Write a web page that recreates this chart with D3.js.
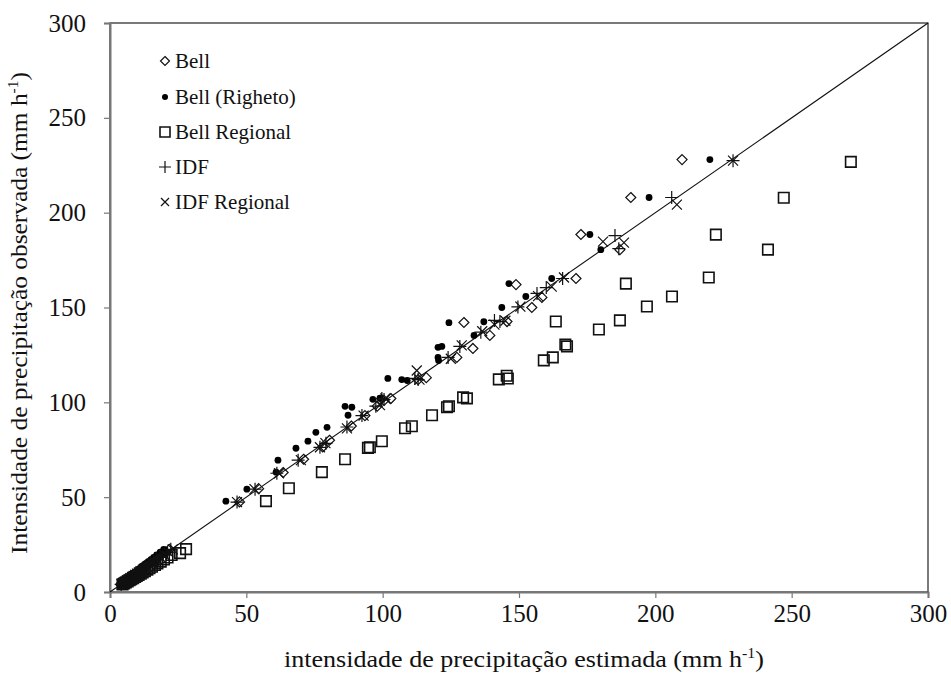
<!DOCTYPE html>
<html>
<head>
<meta charset="utf-8">
<script src="https://cdn.jsdelivr.net/npm/d3@7"></script>
<style>
  html, body { margin: 0; padding: 0; background: #fff; }
  svg { display: block; }
  text { font-family: "Liberation Serif", "Times New Roman", serif; fill: #111; }
</style>
</head>
<body>
<svg id="chart" width="951" height="686"></svg>
<script>
// ---- data (estimated = x, observed = y) ----
const xTicks = [0, 50, 100, 150, 200, 250, 300];
const yTicks = [0, 50, 100, 150, 200, 250, 300];
const seriesNames = ["Bell", "Bell (Righeto)", "Bell Regional", "IDF", "IDF Regional"];

const bellEst = [209.8, 191, 172.7, 187, 170.9, 148.9, 158.4, 154.7, 145.6, 129.8, 139.3, 133.1, 127.2, 116, 113, 103, 100.5, 98, 93.5, 88.5, 80.5, 78, 71, 63.5, 54.5, 47.5,
  3.9, 4.4, 4.8, 5.3, 6.0, 6.4, 7.1, 7.5, 8.2, 8.6, 9.4, 9.9, 10.7, 11.3, 12.1, 12.8, 13.8, 14.4, 15.6, 16.5, 17.7, 18.8, 20.4, 21.8];
const bellObs = [228, 208, 188.5, 180.5, 165.3, 162.1, 155.3, 150, 142.6, 142.1, 135.3, 128.4, 123.7, 113, 112, 102, 101, 98, 93, 87.5, 80, 76.5, 70, 63, 54.5, 47.5,
  4.0, 4.5, 5.0, 5.6, 6.2, 6.7, 7.3, 7.9, 8.4, 9.0, 9.7, 10.3, 11.0, 11.8, 12.5, 13.3, 14.2, 15.0, 16.0, 17.1, 18.2, 19.5, 21.0, 22.5];

const righetoEst = [220, 197.7, 176, 180, 162, 146.3, 152.5, 143.7, 124.3, 137.1, 133.5, 120.3, 121.7, 120.3, 120.5, 101.9, 107, 109, 96.4, 99, 86.2, 88.7, 87.3, 79.6, 75.5, 72.6, 68.2, 61.6, 60.9, 50.2, 42.5,
  3.6, 4.0, 4.3, 4.8, 5.4, 5.8, 6.4, 6.9, 7.3, 7.9, 8.5, 9.0, 9.6, 10.3, 10.9, 11.6, 12.4, 13.1, 14.0, 15.0, 16.0, 17.1, 18.4, 19.7];
const righetoObs = [228, 208, 188.5, 180.5, 165.3, 162.6, 155.8, 150, 142, 142.5, 135.3, 129, 129.5, 123.7, 122, 112.6, 112, 111.5, 101.6, 102.2, 97.9, 97.4, 93.2, 86.8, 84.2, 79.5, 75.8, 69.5, 63.2, 54.2, 47.9,
  4.0, 4.5, 5.0, 5.6, 6.2, 6.7, 7.3, 7.9, 8.4, 9.0, 9.7, 10.3, 11.0, 11.8, 12.5, 13.3, 14.2, 15.0, 16.0, 17.1, 18.2, 19.5, 21.0, 22.5];

const regionalEst = [271.7, 247.1, 222.2, 241.3, 219.6, 189.2, 206.1, 196.9, 187.0, 163.5, 179.3, 167.6, 167, 162.4, 159.1, 145.9, 145.5, 142.6, 130.9, 129.5, 124.3, 123.6, 118.1, 110.7, 108.2, 99.7, 95.3, 94.6, 86.2, 77.7, 65.6, 57.2,
  4.6, 5.2, 5.8, 6.5, 7.2, 7.8, 8.5, 9.2, 9.8, 10.5, 11.3, 12.0, 12.8, 13.7, 14.5, 15.4, 16.5, 17.4, 18.6, 19.8, 21.1, 22.6, 25.7, 27.9];
const regionalObs = [226.8, 207.9, 188.4, 180.5, 165.8, 162.6, 155.8, 150.5, 143.2, 142.6, 138.4, 129.5, 130.5, 123.7, 122.1, 112.6, 114, 112.1, 102.1, 102.6, 97.9, 97.4, 93.2, 87.4, 86.3, 79.5, 76.3, 76.0, 70, 63.2, 54.7, 47.9,
  4.0, 4.5, 5.0, 5.6, 6.2, 6.7, 7.3, 7.9, 8.4, 9.0, 9.7, 10.3, 11.0, 11.8, 12.5, 13.3, 14.2, 15.0, 16.0, 17.1, 18.2, 19.5, 20.5, 22.6];

const idfEst = [228.5, 206, 185.2, 186.6, 166, 160, 156.6, 149.6, 143, 141, 136, 128.3, 124, 111.8, 113, 99.7, 100.5, 97.5, 92.4, 86.9, 79.2, 77, 69, 61.2, 53.2, 46.6,
  4.1, 4.6, 5.1, 5.6, 6.3, 6.7, 7.4, 7.8, 8.5, 9.0, 9.8, 10.3, 11.1, 11.7, 12.6, 13.2, 14.3, 14.9, 16.1, 17.0, 18.3, 19.4, 21.1, 22.3];
const idfObs = [227.4, 208, 187.9, 181, 165.3, 160.5, 157.4, 150.3, 142.6, 143.2, 137, 129.5, 123.7, 112.6, 112, 102, 101.5, 98, 93, 87, 78.4, 76.3, 69.5, 62.6, 54.2, 47.4,
  4.0, 4.5, 5.0, 5.6, 6.2, 6.7, 7.3, 7.9, 8.4, 9.0, 9.7, 10.3, 11.0, 11.8, 12.5, 13.3, 14.2, 15.0, 16.0, 17.1, 18.2, 19.5, 21.0, 22.5];

const idfRegEst = [228.5, 207.9, 188.5, 180.8, 166.5, 162, 157, 150.5, 145, 141, 136.5, 129, 125, 112.5, 113.5, 101, 99, 93, 86.9, 79, 77, 70, 62, 53, 46.6,
  4.2, 4.7, 5.2, 5.8, 6.4, 6.9, 7.5, 8.1, 8.6, 9.2, 9.9, 10.6, 11.2, 12.1, 12.8, 13.6, 14.5, 15.4, 16.3, 17.5, 18.6, 20.0, 21.4, 23.0];
const idfRegObs = [227.4, 204.2, 184.2, 184.7, 165.8, 161, 156, 150.5, 143, 141, 137.5, 130, 123, 116.8, 112, 102, 98.5, 93, 86.3, 78.5, 76.3, 69.5, 62.6, 54.2, 47.4,
  4.0, 4.5, 5.0, 5.6, 6.2, 6.7, 7.3, 7.9, 8.4, 9.0, 9.7, 10.3, 11.0, 11.8, 12.5, 13.3, 14.2, 15.0, 16.0, 17.1, 18.2, 19.5, 21.0, 22.5];

// ---- layout ----
const svg = d3.select("#chart");
const m = { left: 110, right: 928, top: 23, bottom: 592 };
const x = d3.scaleLinear().domain([0, 300]).range([m.left, m.right]);
const y = d3.scaleLinear().domain([0, 300]).range([m.bottom, m.top]);

// frame
svg.append("rect")
  .attr("x", m.left).attr("y", m.top)
  .attr("width", m.right - m.left).attr("height", m.bottom - m.top)
  .attr("fill", "none").attr("stroke", "#222").attr("stroke-width", 1.2);

// axes
const xAxis = svg.append("g").attr("transform", `translate(0,${m.bottom})`)
  .call(d3.axisBottom(x).tickValues(xTicks).tickSize(6).tickPadding(6).tickFormat(d3.format("d")));
const yAxis = svg.append("g").attr("transform", `translate(${m.left},0)`)
  .call(d3.axisLeft(y).tickValues(yTicks).tickSize(6).tickPadding(18).tickFormat(d3.format("d")));
[xAxis, yAxis].forEach(g => {
  g.select(".domain").attr("stroke", "#777").attr("stroke-width", 2);
  g.selectAll(".tick line").attr("stroke", "#777").attr("stroke-width", 1.2);
  g.selectAll(".tick text").attr("font-size", 25).attr("fill", "#1a1a1a")
    .style("font-family", '"Liberation Serif", "Times New Roman", serif');
});

// identity line
svg.append("line")
  .attr("x1", x(0)).attr("y1", y(0)).attr("x2", x(300)).attr("y2", y(300))
  .attr("stroke", "#111").attr("stroke-width", 1.1);

// marker shapes
function markerPath(type, s) {
  const h = s / 2;
  if (type === "diamond") return `M0,${-h}L${h},0L0,${h}L${-h},0Z`;
  if (type === "square") return `M${-h},${-h}H${h}V${h}H${-h}Z`;
  if (type === "plus") return `M${-h},0H${h}M0,${-h}V${h}`;
  if (type === "cross") return `M${-h},${-h}L${h},${h}M${-h},${h}L${h},${-h}`;
  return "";
}
const series = [
  { name: seriesNames[0], est: bellEst, obs: bellObs, type: "diamond", size: 10, lsize: 9 },
  { name: seriesNames[1], est: righetoEst, obs: righetoObs, type: "dot", size: 3.4, lsize: 3 },
  { name: seriesNames[2], est: regionalEst, obs: regionalObs, type: "square", size: 10.5, lsize: 10 },
  { name: seriesNames[3], est: idfEst, obs: idfObs, type: "plus", size: 13, lsize: 12 },
  { name: seriesNames[4], est: idfRegEst, obs: idfRegObs, type: "cross", size: 10, lsize: 8 }
];

function drawMarker(g, type, size) {
  if (type === "dot") {
    g.append("circle").attr("r", size).attr("fill", "#000");
  } else {
    g.append("path").attr("d", markerPath(type, size))
      .attr("fill", "none").attr("stroke", "#111")
      .attr("stroke-width", type === "square" ? 1.6 : 1.2);
  }
}

series.forEach(s => {
  const pts = s.est.map((e, i) => [e, s.obs[i]]);
  const g = svg.append("g").attr("class", "series");
  g.selectAll("g.pt").data(pts).join("g")
    .attr("class", "pt")
    .attr("transform", d => `translate(${x(d[0])},${y(d[1])})`)
    .each(function () { drawMarker(d3.select(this), s.type, s.size); });
});

// legend
const legendRows = [61, 97, 132, 167, 202];
series.forEach((s, i) => {
  const g = svg.append("g").attr("transform", `translate(165,${legendRows[i]})`);
  drawMarker(g, s.type, s.lsize);
  svg.append("text").attr("x", 175).attr("y", legendRows[i] + 7)
    .attr("font-size", 21).text(s.name);
});

// axis titles
const xt = svg.append("text").attr("x", 524).attr("y", 667)
  .attr("text-anchor", "middle").attr("font-size", 23)
  .attr("textLength", 480).attr("lengthAdjust", "spacingAndGlyphs");
xt.append("tspan").text("intensidade de precipitação estimada (mm h");
xt.append("tspan").attr("font-size", 14).attr("dy", -9).text("-1");
xt.append("tspan").attr("dy", 9).text(")");

const yt = svg.append("text")
  .attr("transform", `translate(27,313) rotate(-90)`)
  .attr("text-anchor", "middle").attr("font-size", 23)
  .attr("textLength", 482).attr("lengthAdjust", "spacingAndGlyphs");
yt.append("tspan").text("Intensidade de precipitação observada (mm h");
yt.append("tspan").attr("font-size", 14).attr("dy", -9).text("-1");
yt.append("tspan").attr("dy", 9).text(")");
</script>
</body>
</html>
